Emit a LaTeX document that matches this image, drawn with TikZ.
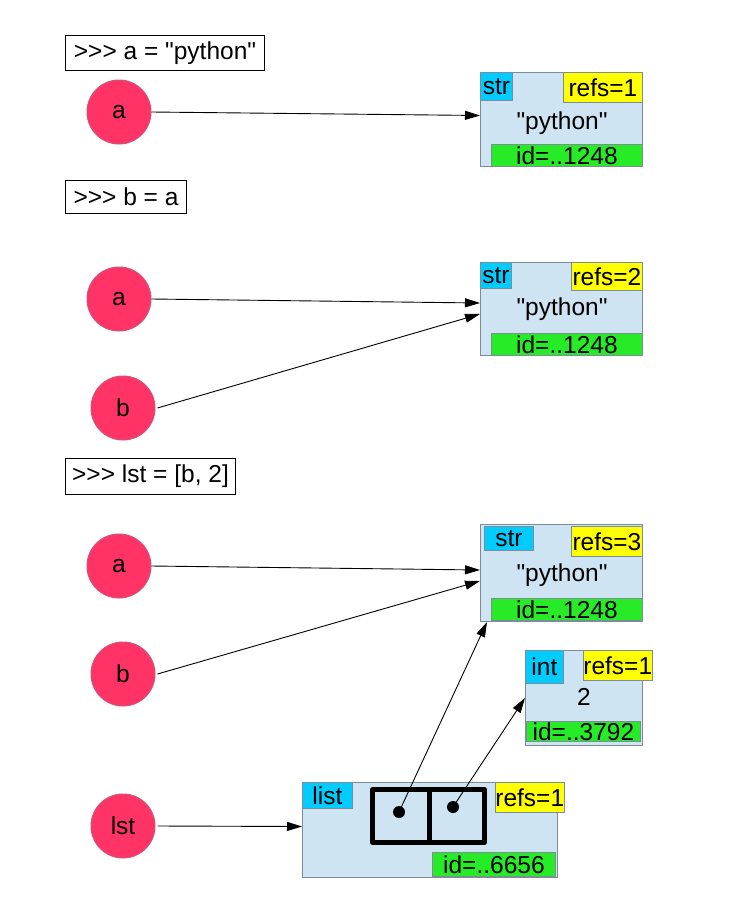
\documentclass[tikz,border=0pt]{standalone}
\usepackage{fontspec}
\setmainfont{Liberation Sans}[Ligatures=TeXOff]
\usetikzlibrary{arrows.meta}
\definecolor{circfill}{RGB}{255,51,102}
\definecolor{circdraw}{RGB}{205,85,120}
\definecolor{objfill}{RGB}{207,228,243}
\definecolor{objdraw}{RGB}{125,140,155}
\definecolor{typefill}{RGB}{0,204,255}
\definecolor{reffill}{RGB}{255,255,0}
\definecolor{idfill}{RGB}{40,235,40}
\tikzset{
  txt/.style={font=\fontsize{24.5}{28}\selectfont},
  codebox/.style={draw=black, fill=white, line width=1pt, txt, inner sep=0pt, anchor=north west},
  var/.style={circle, fill=circfill, draw=circdraw, line width=1pt, minimum size=64pt, inner sep=0pt, txt},
  obj/.style={rectangle, fill=objfill, draw=objdraw, line width=1pt, anchor=north west, inner sep=0pt},
  lab/.style={rectangle, draw=objdraw, line width=0.8pt, anchor=north west, inner sep=0pt, txt},
  typelab/.style={lab, fill=typefill},
  reflab/.style={lab, fill=reffill},
  idlab/.style={lab, fill=idfill},
  arr/.style={draw=black, line width=0.9pt, -{Triangle[length=15pt,width=9pt]}},
  cell/.style={draw=black, line width=5pt, line join=round},
  dot/.style={circle, fill=black, minimum size=12pt, inner sep=0pt},
}
\begin{document}
\begin{tikzpicture}[x=1pt,y=-1pt]
\useasboundingbox (0,0) rectangle (743,902);
% ---------- Step 1 ----------
\node[codebox, minimum width=199pt, minimum height=35pt] (c1) at (65,35) {>>> a = "python"};
\node[var] (a1) at (119,112) {a};
\node[obj, minimum width=162pt, minimum height=94pt] (s1) at (480,72) {};
\node[typelab, minimum width=32pt, minimum height=28pt] (s1t) at (480,72) {str};
\node[reflab, minimum width=79pt, minimum height=30pt] (s1r) at (563,72) {refs=1};
\node[txt] (s1v) at (562,123) {"python"};
\node[idlab, minimum width=151pt, minimum height=22pt] (s1i) at (491,144) {id=..1248};
\draw[arr] (a1.east) -- ([yshift=4pt]s1.west);
% ---------- Step 2 ----------
\node[codebox, minimum width=121pt, minimum height=33pt] (c2) at (65,180) {>>> b = a};
\node[var] (a2) at (119,299) {a};
\node[var] (b2) at (123,408) {b};
\node[obj, minimum width=162pt, minimum height=93pt] (s2) at (480,262) {};
\node[typelab, minimum width=31pt, minimum height=26pt] (s2t) at (480,262) {str};
\node[reflab, minimum width=71pt, minimum height=28pt] (s2r) at (571,262) {refs=2};
\node[txt] (s2v) at (562,309) {"python"};
\node[idlab, minimum width=151pt, minimum height=22pt] (s2i) at (491,333) {id=..1248};
\draw[arr] (a2.east) -- ([yshift=6pt]s2.west);
\draw[arr] ([xshift=2pt]b2.east) -- ([yshift=-5pt]s2.west);
% ---------- Step 3 ----------
\node[codebox, minimum width=170pt, minimum height=36pt] (c3) at (65,458) {>>> lst = [b, 2]};
\node[var] (a3) at (119,566) {a};
\node[var] (b3) at (123,674) {b};
\node[var] (l3) at (123,826) {lst};
\node[obj, minimum width=162pt, minimum height=97pt] (s3) at (480,524) {};
\node[typelab, minimum width=49pt, minimum height=24pt] (s3t) at (484,526) {str};
\node[reflab, minimum width=71pt, minimum height=30pt] (s3r) at (571,526) {refs=3};
\node[txt] (s3v) at (562,575) {"python"};
\node[idlab, minimum width=151pt, minimum height=22pt] (s3i) at (491,598) {id=..1248};
% int object
\node[obj, minimum width=117pt, minimum height=95pt] (n3) at (525,650) {};
\node[typelab, minimum width=38pt, minimum height=33pt] (n3t) at (525,650) {int};
\node[reflab, minimum width=59pt, minimum height=30pt] (n3r) at (583,650) {refs=1};
\node[txt] (n3v) at (584,697) {2};
\node[idlab, minimum width=114pt, minimum height=20pt] (n3i) at (526,721) {id=..3792};
% list object
\node[obj, minimum width=255pt, minimum height=95pt] (L3) at (302,782) {};
\node[typelab, minimum width=50pt, minimum height=26pt] (L3t) at (302,782) {list};
\node[reflab, minimum width=62pt, minimum height=30pt] (L3r) at (495,782) {refs=1};
\node[idlab, minimum width=123pt, minimum height=24pt] (L3i) at (432,852) {id=..6656};
\node[cell, minimum width=57pt, minimum height=53pt, anchor=north west, inner sep=0pt] (cellA) at (370,787) {};
\node[cell, minimum width=55pt, minimum height=53pt, anchor=north west, inner sep=0pt] (cellB) at (427,787) {};
\node[dot] (d1) at (399,812) {};
\node[dot] (d2) at (453,807) {};
\draw[arr] (a3.east) -- ([yshift=3pt]s3.west);
\draw[arr] ([xshift=2pt]b3.east) -- ([yshift=-8pt]s3.west);
\draw[arr] (d1.center) -- ([xshift=7pt]s3.south west);
\draw[arr] (d2.center) -- (n3.west);
\draw[arr] ([xshift=2pt]l3.east) -- ([yshift=3.5pt]L3.west);
\end{tikzpicture}
\end{document}
